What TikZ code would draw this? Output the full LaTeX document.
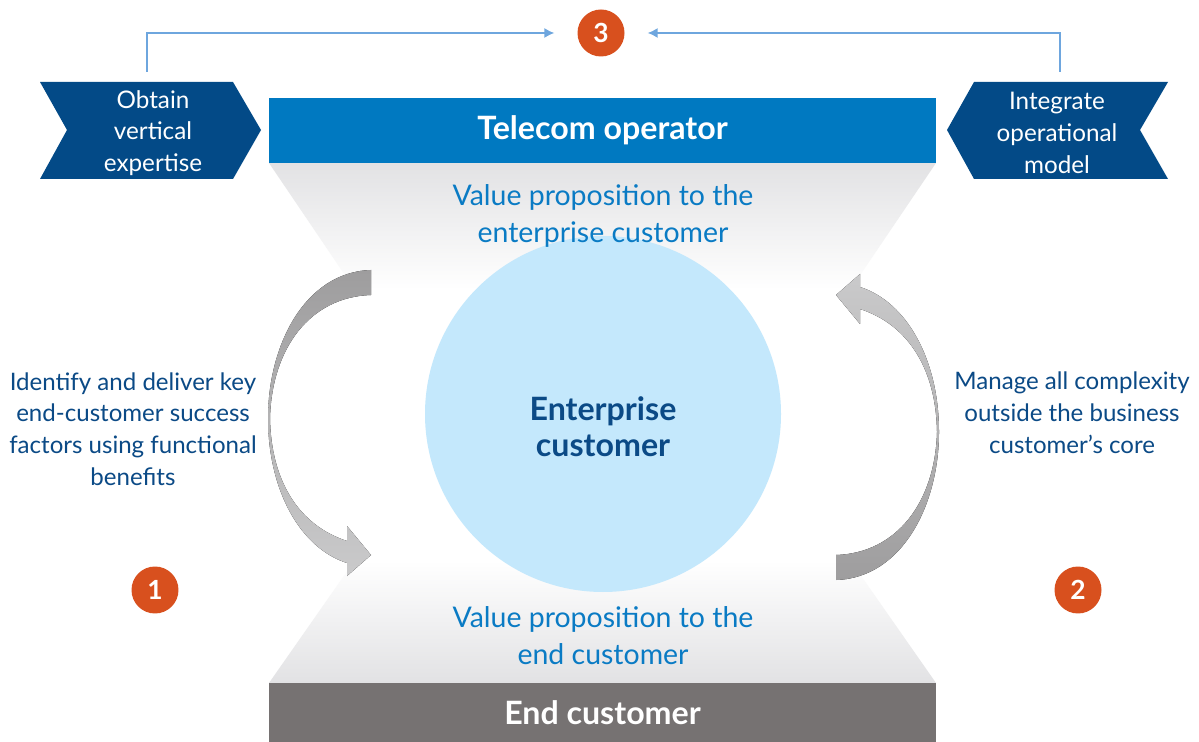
\documentclass[tikz,border=0pt]{standalone}
\usepackage{fontspec}
\setmainfont{Lato}
\usetikzlibrary{arrows.meta}

\definecolor{telblue}{HTML}{0079C1}
\definecolor{chevnavy}{HTML}{034A87}
\definecolor{darktext}{HTML}{0B4A86}
\definecolor{midtext}{HTML}{0A7BC4}
\definecolor{entfill}{HTML}{C4E8FC}
\definecolor{endgray}{HTML}{767272}
\definecolor{numorange}{HTML}{D8501E}
\definecolor{linkblue}{HTML}{6EA6DE}
\definecolor{arrdark}{HTML}{9E9D9E}
\definecolor{arrlight}{HTML}{CACACB}
\definecolor{shade}{HTML}{E2E2E4}

\tikzset{
	band/.style={minimum width=13.34cm, inner sep=0pt, text=white, font=\fontsize{18.3}{20}\selectfont\bfseries},
	chevtext/.style={text=white, align=center, font=\fontsize{13.8}{18.1}\selectfont},
	sidetext/.style={text=darktext, align=center, font=\fontsize{13.7}{18.1}\selectfont},
	valtext/.style={text=midtext, align=center, font=\fontsize{16.2}{21}\selectfont},
	numdot/.style={circle, fill=numorange, minimum size=0.94cm, inner sep=0pt, text=white, font=\fontsize{15}{16}\selectfont\bfseries},
	link/.style={linkblue, thick, arrows={-{Latex[length=2mm, width=2mm]}}, shorten >=13pt}
}

\begin{document}
\begin{tikzpicture}[x=0.02cm, y=-0.02cm]
		\useasboundingbox (0,0) rectangle (1199,742);
		\fill[white] (0,0) rectangle (1199,742);

		%%% Shaded funnels
		\shade[top color=shade, bottom color=white] (269,163) -- (936,163) -- (850,290) -- (355,290) -- cycle;
		\shade[top color=white, bottom color=shade] (355,560) -- (850,560) -- (936,683) -- (269,683) -- cycle;

		%%% Bands
		\node[band, fill=telblue, minimum height=1.3cm] (telecom) at (602.5,130.5) {Telecom operator};
		\node[band, fill=endgray, minimum height=1.18cm] (endcust) at (602.5,712.5) {End customer};

		%%% Chevrons
		\fill[chevnavy] (40,82) -- (233,82) -- (261,130) -- (233,179) -- (40,179) -- (67,130) -- cycle;
		\fill[chevnavy] (974,82) -- (1168,82) -- (1140,130) -- (1168,179) -- (974,179) -- (947,130) -- cycle;
		\node[chevtext] (obtain) at (153,133) {Obtain\\vertical\\expertise};
		\node[chevtext] (integrate) at (1057,133) {Integrate\\operational\\model};

		%%% Step 3
		\node[numdot] (three) at (601,33) {3};
		\coordinate (lstart) at (147,72);
		\coordinate (rstart) at (1060,72);
		\draw[link] (lstart) |- (three);
		\draw[link] (rstart) |- (three);

		%%% Enterprise customer
		\fill[entfill] (603,414) circle (178);
		\node[text=darktext, align=center, font=\fontsize{18.3}{20.5}\selectfont\bfseries] (ent) at (603,427) {Enterprise\\customer};

		\node[valtext] (valtop) at (603,216) {Value proposition to the\\enterprise customer};
		\node[valtext] (valbot) at (603,636) {Value proposition to the\\end customer};

		%%% Curved arrows
		\fill[top color=arrdark, bottom color=arrlight] (371,270) .. controls (305,272) and (268,345) .. (268,418)
			.. controls (268,490) and (300,548) .. (347,563) -- (347,576) -- (371,555) -- (347,526) -- (347,541)
			.. controls (298,525) and (271,480) .. (270,418) .. controls (272,348) and (310,297) .. (371,295) -- cycle;
		\fill[top color=arrlight, bottom color=arrdark, rotate around={180:(603.5,425)}] (371,270) .. controls (305,272) and (268,345) .. (268,418)
			.. controls (268,490) and (300,548) .. (347,563) -- (347,576) -- (371,555) -- (347,526) -- (347,541)
			.. controls (298,525) and (271,480) .. (270,418) .. controls (272,348) and (310,297) .. (371,295) -- cycle;

		%%% Side texts and steps
		\node[sidetext] (identify) at (133,429) {Identify and deliver key\\end-customer success\\factors using functional\\benefits};
		\node[sidetext] (manage) at (1072,413) {Manage all complexity\\outside the business\\customer’s core};
		\node[numdot] (one) at (155,590) {1};
		\node[numdot] (two) at (1078,590) {2};
\end{tikzpicture}
\end{document}
